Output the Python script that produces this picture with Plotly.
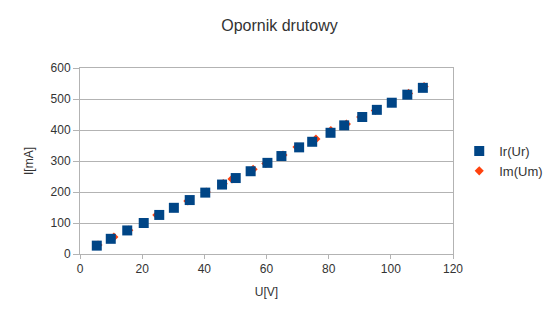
import plotly.graph_objects as go

# Ir(Ur) series
U_r = [5.4, 9.9, 15.2, 20.5, 25.5, 30.2, 35.3, 40.3, 45.7, 50.1, 54.9,
       60.3, 64.8, 70.5, 74.7, 80.6, 85.0, 90.8, 95.5, 100.3, 105.3, 110.3]
I_r = [27, 49, 76, 100, 126, 149, 174, 198, 224, 245, 267,
       294, 316, 344, 362, 391, 415, 442, 465, 488, 514, 536]

# Im(Um) series
U_m = [5.8, 10.9, 15.7, 20.5, 24.7, 30.2, 34.7, 40.6, 46.1, 48.9, 55.7,
       59.8, 65.3, 69.8, 75.9, 80.7, 85.7, 90.3, 95.0, 100.3, 105.7, 110.7]
I_m = [29, 55, 77, 100, 126, 149, 171, 200, 227, 242, 273,
       292, 319, 345, 371, 398, 419, 442, 463, 488, 518, 540]

x_ticks = [0, 20, 40, 60, 80, 100, 120]
y_ticks = [0, 100, 200, 300, 400, 500, 600]

FONT = "Liberation Sans"
GRID = "#b3b3b3"

fig = go.Figure()
fig.add_trace(go.Scatter(
    x=U_m, y=I_m, mode="markers", name="Im(Um)",
    marker=dict(symbol="diamond", size=7, color="#ff420e", line=dict(width=0)),
))
fig.add_trace(go.Scatter(
    x=U_r, y=I_r, mode="markers", name="Ir(Ur)",
    marker=dict(symbol="square", size=10, color="#004586", line=dict(width=0)),
))

fig.update_layout(
    width=559, height=322,
    margin=dict(l=80, r=105, t=68, b=68),
    paper_bgcolor="white", plot_bgcolor="white",
    font=dict(family=FONT, size=12, color="#333333"),
    title=dict(text="Opornik drutowy", x=0.5, xanchor="center",
               y=1 - 25 / 322, yanchor="middle", yref="container",
               font=dict(family=FONT, size=16, color="#333333")),
    showlegend=True,
    legend=dict(x=1.014, xanchor="left", xref="paper", y=0.5, yanchor="middle",
                traceorder="reversed", font=dict(family=FONT, size=13, color="#333333"),
                bgcolor="rgba(0,0,0,0)", itemwidth=30),
    xaxis=dict(
        range=[0, 120], tickvals=x_ticks, ticktext=[str(v) for v in x_ticks],
        showgrid=False, zeroline=False,
        showline=True, linecolor=GRID, linewidth=1, mirror=True,
        ticks="outside", ticklen=4, tickcolor=GRID,
        tickfont=dict(family=FONT, size=12, color="#333333"),
        title=dict(text="U[V]", standoff=12, font=dict(family=FONT, size=12, color="#333333")),
    ),
    yaxis=dict(
        range=[0, 600], tickvals=y_ticks, ticktext=[str(v) for v in y_ticks],
        showgrid=True, gridcolor=GRID, gridwidth=1, zeroline=False,
        showline=True, linecolor=GRID, linewidth=1, mirror=True,
        ticks="outside", ticklen=6, tickcolor=GRID,
        tickfont=dict(family=FONT, size=12, color="#333333"),
        title=dict(text="I[mA]", standoff=14, font=dict(family=FONT, size=12, color="#333333")),
    ),
)

fig.write_html("out.html")
